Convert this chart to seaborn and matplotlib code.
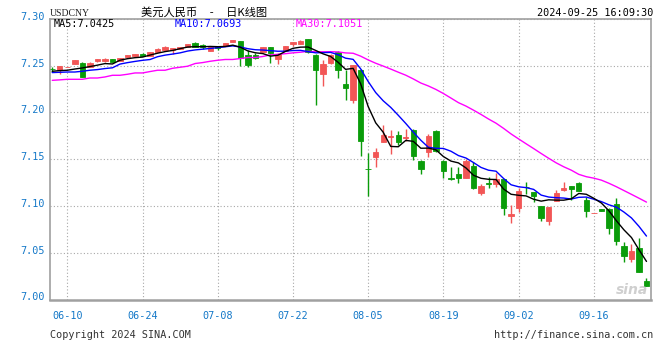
import numpy as np
import pandas as pd
import matplotlib
matplotlib.use('Agg')
import matplotlib.pyplot as plt
import seaborn as sns
from matplotlib.transforms import ScaledTranslation

# ---------------- data ----------------
dates = pd.bdate_range('2024-06-06', '2024-09-25')

opens = [7.2465, 7.2459, 7.2485, 7.2519, 7.2534, 7.2487, 7.2548, 7.2548, 7.2570, 7.2556,
         7.2595, 7.2605, 7.2624, 7.2605, 7.2645, 7.2670, 7.2667, 7.2681, 7.2702, 7.2745,
         7.2720, 7.2659, 7.2710, 7.2713, 7.2756, 7.2763, 7.2613, 7.2620, 7.2648, 7.2699,
         7.2573, 7.2659, 7.2731, 7.2734, 7.2785, 7.2613, 7.2409, 7.2530, 7.2642, 7.2301,
         7.2129, 7.2459, 7.1400, 7.1527, 7.1681, 7.1743, 7.1763, 7.1732, 7.1817, 7.1484,
         7.1573, 7.1806, 7.1484, 7.1304, 7.1347, 7.1304, 7.1430, 7.1143, 7.1250, 7.1240,
         7.1287, 7.0892, 7.0982, 7.1203, 7.1150, 7.1000, 7.0839, 7.1054, 7.1172, 7.1215,
         7.1250, 7.1065, 7.0923, 7.0964, 7.0971, 7.1018, 7.0570, 7.0438, 7.0552, 7.0194]
highs = [7.2487, 7.2500, 7.2490, 7.2562, 7.2545, 7.2537, 7.2577, 7.2580, 7.2575, 7.2584,
         7.2619, 7.2626, 7.2634, 7.2648, 7.2685, 7.2710, 7.2690, 7.2705, 7.2735, 7.2756,
         7.2731, 7.2710, 7.2713, 7.2745, 7.2777, 7.2766, 7.2667, 7.2638, 7.2702, 7.2702,
         7.2634, 7.2713, 7.2756, 7.2774, 7.2788, 7.2624, 7.2559, 7.2624, 7.2656, 7.2452,
         7.2508, 7.2470, 7.1567, 7.1620, 7.1871, 7.1814, 7.1799, 7.1825, 7.1820, 7.1487,
         7.1771, 7.1809, 7.1487, 7.1412, 7.1419, 7.1502, 7.1466, 7.1233, 7.1312, 7.1358,
         7.1290, 7.1011, 7.1197, 7.1258, 7.1153, 7.1003, 7.0992, 7.1169, 7.1258, 7.1218,
         7.1253, 7.1100, 7.0929, 7.0967, 7.0974, 7.1083, 7.0613, 7.0595, 7.0659, 7.0229]
lows = [7.2433, 7.2416, 7.2482, 7.2516, 7.2375, 7.2485, 7.2541, 7.2540, 7.2535, 7.2553,
        7.2592, 7.2603, 7.2599, 7.2602, 7.2642, 7.2668, 7.2631, 7.2678, 7.2700, 7.2698,
        7.2674, 7.2656, 7.2667, 7.2710, 7.2753, 7.2498, 7.2487, 7.2577, 7.2645, 7.2530,
        7.2516, 7.2656, 7.2710, 7.2731, 7.2638, 7.2075, 7.2280, 7.2524, 7.2369, 7.2129,
        7.2097, 7.1538, 7.1108, 7.1412, 7.1681, 7.1556, 7.1656, 7.1699, 7.1491, 7.1341,
        7.1519, 7.1581, 7.1304, 7.1276, 7.1250, 7.1302, 7.1180, 7.1118, 7.1197, 7.1207,
        7.0900, 7.0820, 7.0939, 7.1126, 7.1046, 7.0839, 7.0796, 7.1052, 7.1161, 7.1065,
        7.1158, 7.0882, 7.0921, 7.0943, 7.0696, 7.0581, 7.0401, 7.0401, 7.0294, 7.0140]
closes = [7.2460, 7.2495, 7.2488, 7.2559, 7.2380, 7.2534, 7.2570, 7.2573, 7.2538, 7.2581,
          7.2616, 7.2624, 7.2605, 7.2645, 7.2681, 7.2702, 7.2685, 7.2702, 7.2731, 7.2702,
          7.2696, 7.2702, 7.2688, 7.2742, 7.2774, 7.2584, 7.2505, 7.2588, 7.2699, 7.2638,
          7.2631, 7.2710, 7.2753, 7.2763, 7.2645, 7.2452, 7.2524, 7.2613, 7.2452, 7.2266,
          7.2505, 7.1699, 7.1396, 7.1581, 7.1763, 7.1747, 7.1681, 7.1736, 7.1530, 7.1395,
          7.1753, 7.1591, 7.1376, 7.1287, 7.1298, 7.1484, 7.1197, 7.1215, 7.1233, 7.1287,
          7.0975, 7.0917, 7.1161, 7.1199, 7.1108, 7.0874, 7.0989, 7.1143, 7.1197, 7.1180,
          7.1161, 7.0946, 7.0927, 7.0946, 7.0767, 7.0624, 7.0462, 7.0516, 7.0294, 7.0140]

# moving-average values during warm-up (earlier closes not shown)
ma5_head = [7.2441, 7.2448, 7.2452, 7.2465]
ma10_head = [7.2427, 7.2430, 7.2433, 7.2433, 7.2441, 7.2452, 7.2459, 7.2470, 7.2478]
ma30_head = [7.2344, 7.2349, 7.2355, 7.2355, 7.2355, 7.2369, 7.2369, 7.2380, 7.2398, 7.2398,
             7.2409, 7.2423, 7.2423, 7.2438, 7.2452, 7.2452, 7.2473, 7.2484, 7.2495, 7.2524,
             7.2534, 7.2548, 7.2559, 7.2567, 7.2567, 7.2577, 7.2588, 7.2588, 7.2599]

y_ticks = [7.00, 7.05, 7.10, 7.15, 7.20, 7.25, 7.30]
x_tick_labels = ['06-10', '06-24', '07-08', '07-22', '08-05', '08-19', '09-02', '09-16']

symbol = 'USDCNY'
title = '美元人民币     -     日K线图'
timestamp = '2024-09-25 16:09:30'
ma_texts = ['MA5:7.0425', 'MA10:7.0693', 'MA30:7.1051']

# ---------------- frame ----------------
df = pd.DataFrame({'date': dates, 'open': opens, 'high': highs,
                   'low': lows, 'close': closes})
df['i'] = np.arange(len(df))
ma5 = df['close'].rolling(5).mean().to_numpy()
ma5[:len(ma5_head)] = ma5_head
ma10 = df['close'].rolling(10).mean().to_numpy()
ma10[:len(ma10_head)] = ma10_head
ma30 = df['close'].rolling(30).mean().to_numpy()
ma30[:len(ma30_head)] = ma30_head
df['MA5'], df['MA10'], df['MA30'] = ma5, ma10, ma30

RED = '#f25656'
GREEN = '#0a9c0a'
BLUE_TXT = '#1478c8'

sns.set_theme(style='white')
plt.rcParams['font.family'] = ['DejaVu Sans Mono', 'Noto Sans CJK SC']

W, H = 660, 360
fig = plt.figure(figsize=(W / 100, H / 100), dpi=100)
ax = fig.add_axes([50 / W, (H - 299.5) / H, 601 / W, 280.5 / H])

up = df['close'] >= df['open']
cols = np.where(up, RED, GREEN)
body_lo = np.minimum(df['open'], df['close'])
body_h = np.abs(df['close'] - df['open'])

ax.vlines(df['i'], df['low'], df['high'], colors=cols, lw=1.0, zorder=3)
ax.bar(df['i'], body_h, bottom=body_lo, width=0.72, color=cols,
       edgecolor=cols, linewidth=0.6, zorder=4)

sns.lineplot(data=df, x='i', y='MA30', color='#ff00ff', lw=1.0, ax=ax, zorder=5)
sns.lineplot(data=df, x='i', y='MA10', color='#0000ff', lw=1.0, ax=ax, zorder=5)
sns.lineplot(data=df, x='i', y='MA5', color='#000000', lw=1.0, ax=ax, zorder=6)

ax.set_xlim(-0.3, 79.6)
ax.set_ylim(7.00, 7.30)
ax.set_xlabel('')
ax.set_ylabel('')

date_strs = df['date'].dt.strftime('%m-%d').tolist()
xt = [date_strs.index(s) for s in x_tick_labels]
ax.set_xticks(xt)
ax.set_xticklabels(x_tick_labels)
ax.set_yticks(y_ticks)
ax.set_yticklabels([f'{v:.2f}' for v in y_ticks])
ax.tick_params(axis='both', length=0, labelsize=7.3, colors=BLUE_TXT)
ax.tick_params(axis='y', pad=4)
ax.tick_params(axis='x', pad=8)
off = ScaledTranslation(0, 0.03, fig.dpi_scale_trans)
for lab in ax.get_yticklabels():
    lab.set_transform(lab.get_transform() + off)

ax.grid(True, color='#a8a8a8', linestyle=(0, (1, 2)), lw=0.8, zorder=0)
for s in ax.spines.values():
    s.set_color('#a0a0a0')
    s.set_linewidth(1.2)
ax.spines['bottom'].set_linewidth(1.8)

# ---------------- texts ----------------
def px(x, y):
    return x / W, 1 - y / H

fig.text(*px(50, 13), symbol, family='Liberation Serif', fontsize=7.0,
         color='#222222', va='center', ha='left')
fig.text(*px(141, 12.5), title, family=['Noto Sans CJK SC', 'DejaVu Sans'],
         fontsize=8.1, color='#000000', va='center', ha='left')
fig.text(*px(653, 12.5), timestamp, fontsize=7.3, color='#000000',
         va='center', ha='right')

ma_cols = ['#000000', '#0000ff', '#ff00ff']
ma_x = [54, 175, 296]
for t, c, x in zip(ma_texts, ma_cols, ma_x):
    fig.text(*px(x, 24), t, fontsize=7.3, color=c, va='center', ha='left')

fig.text(*px(50, 335), 'Copyright 2024 SINA.COM', fontsize=7.3,
         color='#333333', va='center', ha='left')
fig.text(*px(653, 335), 'http://finance.sina.com.cn', fontsize=7.3,
         color='#333333', va='center', ha='right')
fig.text(*px(632, 290), 'sina', family='DejaVu Sans', fontsize=10,
         fontweight='bold', style='italic', color='#b0b0b0', alpha=0.6,
         va='center', ha='center')

fig.savefig('out.png', dpi=100, facecolor='white')
